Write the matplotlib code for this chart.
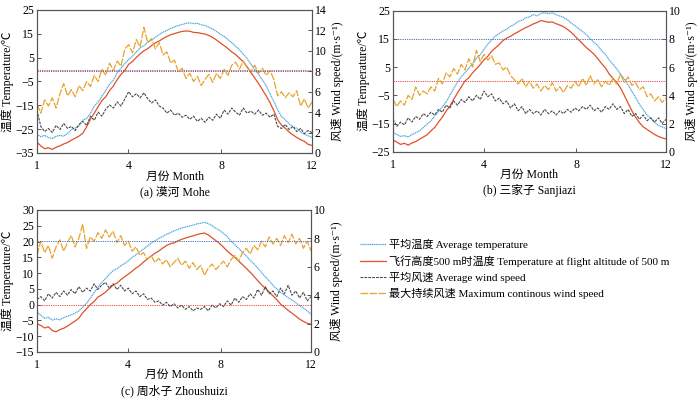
import numpy as np
import matplotlib
matplotlib.use("Agg")
import matplotlib.pyplot as plt

plt.rcParams['font.family'] = ['Liberation Serif', 'Noto Sans CJK SC', 'DejaVu Serif']
plt.rcParams['font.size'] = 8.5
plt.rcParams['axes.unicode_minus'] = True

# day index (73 samples over the year), month ticks
day = np.linspace(1, 365, 73)
month_pos = [1, 122, 245, 365]
month_lbl = ['1', '4', '8', '12']

# (a) Mohe
mohe_avg_t = [-27.0, -28.2, -27.6, -28.5, -28.9, -28.0, -27.6, -27.9, -26.8, -25.2, -24.5, -23.6, -21.2,
              -20.5, -18.4, -15.3, -13.6, -11.2, -8.7, -6.2, -4.4, -1.3, 0.6, 2.5, 4.3, 5.6, 7.4, 9.1, 10.0,
              11.6, 12.4, 13.6, 14.7, 15.7, 16.4, 17.3, 17.9, 18.5, 18.9, 19.4, 19.6, 19.3, 19.4, 18.8, 18.5,
              17.7, 17.0, 16.0, 14.9, 13.9, 12.6, 11.3, 9.8, 8.4, 6.5, 4.6, 2.2, 0.1, -2.0, -4.3, -6.8, -10.2,
              -13.4, -16.8, -19.7, -21.0, -22.8, -23.9, -24.6, -26.2, -27.1, -27.8, -28.4]
mohe_500m_t = [-30.5, -32.0, -33.2, -32.8, -33.5, -32.6, -32.0, -31.2, -30.6, -29.6, -28.8, -27.9, -26.7,
               -24.0, -20.8, -18.2, -15.6, -13.0, -11.4, -8.8, -6.9, -4.2, -2.0, -0.3, 2.2, 3.4, 5.1, 6.6,
               7.9, 8.8, 10.1, 11.2, 12.0, 13.0, 13.9, 14.6, 15.1, 15.6, 16.0, 16.2, 16.1, 15.6, 15.5, 15.2,
               14.9, 14.3, 13.5, 12.4, 11.2, 10.0, 8.8, 7.4, 6.3, 4.8, 3.3, 1.2, -1.2, -3.5, -5.8, -8.4,
               -11.0, -13.9, -17.2, -21.0, -23.3, -24.6, -26.2, -27.4, -28.5, -29.4, -30.1, -31.4, -31.8]
mohe_avg_w = [4.2, 2.6, 2.1, 2.4, 2.0, 2.7, 2.3, 2.9, 2.4, 2.6, 2.2, 2.8, 3.1, 2.7, 3.6, 3.2, 4.0, 3.6, 4.3,
              4.7, 4.4, 5.0, 4.6, 5.3, 6.0, 5.5, 5.8, 5.4, 5.9, 5.3, 4.9, 5.2, 4.6, 4.4, 3.9, 4.2, 3.7, 3.9,
              3.5, 3.7, 3.3, 3.6, 3.1, 3.4, 3.0, 3.5, 3.2, 3.8, 3.4, 4.2, 3.8, 4.4, 4.0, 3.7, 4.4, 3.9, 4.1,
              3.8, 4.2, 3.7, 3.9, 3.5, 3.8, 2.6, 2.4, 2.8, 2.3, 2.6, 2.1, 2.4, 1.9, 2.2, 2.0]
mohe_max_w = [4.8, 3.9, 5.2, 4.6, 5.4, 4.4, 5.8, 6.8, 5.6, 6.2, 5.5, 6.6, 6.1, 7.0, 6.5, 7.6, 7.0, 8.2, 7.6,
              8.8, 8.1, 9.0, 8.5, 10.2, 10.6, 9.8, 11.1, 10.4, 12.3, 10.8, 11.2, 10.2, 10.8, 9.6, 9.9, 8.8,
              9.1, 7.9, 8.3, 7.3, 7.8, 7.0, 7.5, 6.6, 7.2, 7.7, 6.9, 7.8, 7.3, 8.2, 7.6, 8.6, 8.9, 8.2, 9.0,
              8.4, 8.0, 8.6, 7.8, 8.3, 7.6, 8.1, 7.2, 5.6, 6.0, 5.4, 5.9, 5.5, 6.1, 4.6, 5.3, 4.4, 5.0]

# (b) Sanjiazi
sjz_avg_t = [-18.2, -18.9, -19.6, -19.3, -19.8, -18.9, -18.3, -17.6, -16.4, -15.2, -14.1, -12.3, -10.8,
             -9.1, -7.4, -5.0, -2.6, -0.4, 1.6, 3.0, 4.6, 6.2, 8.1, 9.4, 11.3, 13.2, 14.6, 16.0, 16.9, 17.8,
             18.4, 19.5, 20.1, 21.2, 21.6, 22.5, 22.8, 23.6, 23.2, 24.0, 24.3, 23.9, 24.2, 23.6, 23.1, 22.6,
             21.8, 20.6, 19.7, 18.6, 17.6, 16.5, 15.0, 13.8, 12.6, 10.8, 9.5, 7.6, 6.0, 4.4, 2.5, 0.8, -1.3,
             -3.6, -5.8, -8.2, -10.1, -12.0, -13.2, -14.6, -15.7, -16.2, -16.8]
sjz_500m_t = [-20.9, -21.6, -22.4, -22.0, -22.7, -21.9, -21.4, -20.6, -19.8, -19.0, -17.6, -16.4, -14.5,
              -12.8, -10.6, -8.9, -6.4, -4.2, -2.0, 0.1, 1.2, 3.0, 4.4, 5.9, 7.6, 8.8, 10.6, 11.8, 13.0,
              14.4, 15.3, 15.9, 16.8, 17.5, 18.3, 19.0, 19.6, 20.3, 20.8, 21.5, 21.2, 20.9, 21.0, 20.4, 19.9,
              19.3, 18.4, 17.3, 16.0, 14.6, 13.3, 11.9, 10.8, 9.6, 8.0, 6.3, 4.8, 2.6, 1.0, -0.4, -2.4, -5.0,
              -7.8, -10.5, -12.8, -14.7, -16.2, -17.1, -18.0, -18.9, -19.6, -20.1, -20.5]
sjz_avg_w = [2.3, 1.8, 2.1, 1.9, 2.4, 2.1, 2.5, 2.3, 2.7, 2.5, 2.8, 2.6, 3.0, 2.8, 3.3, 3.1, 3.6, 3.3, 3.7,
             3.5, 3.9, 3.6, 4.0, 3.7, 4.3, 3.9, 4.1, 3.6, 3.8, 3.4, 3.6, 3.1, 3.4, 2.9, 3.2, 2.7, 3.0, 2.7,
             2.9, 2.6, 3.0, 2.7, 2.9, 2.6, 2.9, 2.7, 3.0, 2.8, 3.1, 2.9, 3.2, 3.0, 3.3, 2.9, 3.1, 2.8, 3.2,
             3.0, 3.4, 3.0, 3.2, 2.7, 3.0, 2.5, 2.7, 2.3, 2.6, 2.2, 2.4, 2.1, 2.4, 2.0, 2.3]
sjz_max_w = [3.7, 3.2, 3.6, 3.3, 4.0, 3.7, 4.6, 4.0, 4.3, 4.1, 4.6, 4.3, 5.2, 4.8, 5.6, 5.3, 5.9, 5.5, 6.2,
             5.8, 6.6, 6.0, 7.2, 6.4, 6.9, 6.5, 6.8, 6.2, 6.3, 5.8, 6.0, 5.4, 5.1, 4.8, 5.2, 4.6, 5.0, 4.5,
             4.8, 4.3, 4.7, 4.4, 4.9, 4.3, 4.6, 4.2, 4.7, 4.5, 5.0, 4.6, 5.2, 4.7, 5.4, 4.8, 5.1, 4.6, 5.0,
             4.7, 5.2, 4.8, 5.5, 4.9, 5.3, 4.7, 4.9, 4.4, 4.6, 3.9, 4.1, 3.6, 3.9, 3.5, 3.8]

# (c) Zhoushuizi
zsz_avg_t = [-2.2, -3.4, -4.3, -4.0, -4.9, -4.5, -4.8, -4.1, -3.7, -3.2, -2.7, -2.0, -0.8, 0.4, 2.0, 3.8,
             5.5, 7.0, 8.3, 9.6, 10.8, 11.4, 12.3, 13.0, 13.9, 15.0, 15.8, 16.7, 17.6, 18.6, 19.5, 20.2,
             21.0, 21.6, 22.3, 22.8, 23.4, 23.8, 24.3, 24.6, 24.9, 25.2, 25.6, 25.8, 26.1, 25.7, 25.0, 24.2,
             23.5, 22.6, 21.6, 20.1, 19.0, 17.8, 16.6, 15.4, 14.1, 12.9, 11.6, 10.2, 8.8, 7.6, 6.1, 5.0, 3.9,
             3.1, 2.2, 1.5, 0.6, -0.3, -1.0, -2.0, -3.0]
zsz_500m_t = [-6.0, -6.6, -7.4, -7.0, -8.2, -8.6, -7.9, -7.5, -6.8, -6.0, -5.2, -4.3, -2.6, -1.3, 0.0, 1.0,
              2.4, 3.1, 4.0, 5.1, 6.2, 6.8, 7.9, 8.8, 9.7, 10.6, 11.6, 12.4, 13.5, 14.5, 15.4, 16.3, 17.0,
              17.9, 18.7, 19.3, 19.6, 20.2, 20.7, 21.1, 21.5, 21.8, 22.2, 22.5, 22.7, 22.1, 21.2, 20.3, 19.4,
              18.2, 17.0, 15.9, 15.0, 13.8, 12.7, 11.5, 10.3, 9.0, 7.6, 6.3, 5.2, 4.0, 2.8, 1.6, 0.2, -0.8,
              -1.8, -2.7, -3.6, -4.6, -5.3, -5.9, -6.2]
zsz_avg_w = [3.7, 3.9, 3.6, 4.1, 3.8, 4.2, 3.9, 4.3, 4.0, 4.4, 4.1, 4.6, 4.2, 4.5, 4.3, 4.8, 4.4, 4.7, 4.9,
             4.5, 4.8, 4.4, 4.7, 4.3, 4.5, 4.1, 4.3, 3.9, 4.1, 3.7, 3.8, 3.5, 3.6, 3.3, 3.5, 3.2, 3.4, 3.1,
             3.3, 3.0, 3.2, 2.9, 3.1, 3.0, 3.2, 2.9, 3.3, 3.1, 3.4, 3.2, 3.6, 3.3, 3.8, 3.5, 3.9, 3.7, 4.1,
             3.8, 4.4, 4.0, 4.6, 4.1, 4.3, 3.9, 4.5, 4.1, 4.7, 4.0, 4.3, 3.8, 4.2, 3.6, 3.9]
zsz_max_w = [6.8, 7.8, 7.0, 7.5, 6.6, 7.4, 7.9, 7.1, 7.7, 8.2, 7.4, 8.0, 9.0, 7.3, 8.1, 7.8, 8.4, 8.0, 8.6,
             8.1, 8.5, 7.7, 8.2, 7.5, 7.8, 7.1, 7.4, 6.8, 7.0, 6.5, 6.8, 6.3, 6.6, 6.2, 6.5, 6.0, 6.3, 6.6,
             6.1, 6.4, 5.9, 6.3, 5.8, 6.1, 5.4, 5.9, 6.2, 5.8, 6.1, 6.4, 6.0, 6.5, 6.8, 6.4, 7.0, 7.3, 6.9,
             7.5, 7.2, 7.8, 7.4, 8.1, 7.6, 8.0, 7.5, 8.2, 7.7, 8.3, 7.6, 8.0, 7.3, 7.8, 7.1]

labels = ['平均温度 Average temperature',
          '飞行高度500 m时温度 Temperature at flight altitude of 500 m',
          '平均风速 Average wind speed',
          '最大持续风速 Maximum continous wind speed']

C_BLUE = '#4aa6dc'
C_RED = '#e0502a'
C_GRAY = '#4a4a4a'
C_ORANGE = '#e8a32e'
C_SPINE = '#555555'


def draw_panel(fig, rect, avg_t, t500, avg_w, max_w, tlim, tticks, wlim, wticks, w_thr, caption):
    ax = fig.add_axes(rect)
    ax2 = ax.twinx()
    l1, = ax.plot(day, avg_t, color=C_BLUE, lw=0.9, ls=(0, (1, 0.5)))
    l2, = ax.plot(day, t500, color=C_RED, lw=0.9)
    ax.axhline(0, color='#e8393a', lw=0.6, ls=(0, (1.5, 1.2)))
    l3, = ax2.plot(day, avg_w, color=C_GRAY, lw=0.8, ls=(0, (2.5, 1)))
    l4, = ax2.plot(day, max_w, color=C_ORANGE, lw=0.9, ls=(0, (6, 1.2)))
    ax2.axhline(w_thr, color='#3a62b0', lw=0.6, ls=(0, (1.5, 1.2)))
    ax.set_xlim(1, 365)
    ax.set_ylim(*tlim)
    ax.set_yticks(tticks)
    ax2.set_ylim(*wlim)
    ax2.set_yticks(wticks)
    ax.set_xticks(month_pos)
    ax.set_xticklabels(month_lbl)
    for a in (ax, ax2):
        for s in a.spines.values():
            s.set_color(C_SPINE)
            s.set_linewidth(0.8)
        a.tick_params(direction='in', length=3, width=0.7, color=C_SPINE, labelsize=8.5, pad=2)
    ax.tick_params(axis='x', pad=5)
    ax.set_ylabel('温度 Temperature/℃', fontsize=8.5, labelpad=1)
    ax2.set_ylabel('风速 Wind speed/(m·s⁻¹)', fontsize=8.5, labelpad=3, rotation=90)
    ax.text(0.5, -0.165, '月份 Month', transform=ax.transAxes, ha='center', va='center', fontsize=8.5)
    ax.text(0.5, -0.275, caption, transform=ax.transAxes, ha='center', va='center', fontsize=8.5)
    return [l1, l2, l3, l4]


fig = plt.figure(figsize=(7, 3.99), dpi=100)

handles = draw_panel(fig, [37 / 700, 1 - 153 / 399, 275 / 700, 143 / 399],
                     mohe_avg_t, mohe_500m_t, mohe_avg_w, mohe_max_w,
                     (-35, 25), [-35, -25, -15, -5, 5, 15, 25], (0, 14), range(0, 15, 2), 8,
                     '(a) 漠河 Mohe')
draw_panel(fig, [393 / 700, 1 - 151.7 / 399, 273 / 700, 141 / 399],
           sjz_avg_t, sjz_500m_t, sjz_avg_w, sjz_max_w,
           (-25, 25), [-25, -15, -5, 5, 15, 25], (0, 10), range(0, 11, 2), 8,
           '(b) 三家子 Sanjiazi')
draw_panel(fig, [37 / 700, 1 - 352 / 399, 274 / 700, 142 / 399],
           zsz_avg_t, zsz_500m_t, zsz_avg_w, zsz_max_w,
           (-15, 30), range(-15, 31, 5), (0, 10), range(0, 11, 2), 7.8,
           '(c) 周水子 Zhoushuizi')

fig.legend(handles, labels, loc='upper left', bbox_to_anchor=(360 / 700, 1 - 239 / 399),
           frameon=False, fontsize=8, handlelength=2.3, handletextpad=0.3,
           labelspacing=0.45, borderpad=0, borderaxespad=0)

fig.savefig('out.png', dpi=100)
